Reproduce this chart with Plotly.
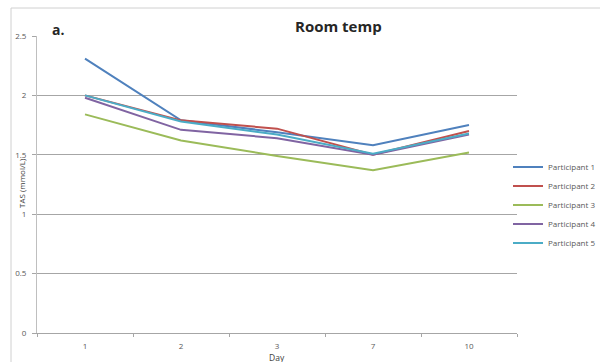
import plotly.graph_objects as go

days = ["1", "2", "3", "7", "10"]
series_names = ["Participant 1", "Participant 2", "Participant 3", "Participant 4", "Participant 5"]
p1 = [2.31, 1.79, 1.69, 1.58, 1.75]
p2 = [2.00, 1.79, 1.72, 1.50, 1.70]
p3 = [1.84, 1.62, 1.49, 1.37, 1.52]
p4 = [1.98, 1.71, 1.64, 1.50, 1.67]
p5 = [2.00, 1.78, 1.67, 1.51, 1.68]
y_ticks = [0, 0.5, 1, 1.5, 2, 2.5]
y_tick_labels = ["0", "0.5", "1", "1.5", "2", "2.5"]
colors = ["#4F81BD", "#C0504D", "#9BBB59", "#8064A2", "#4BACC6"]

fig = go.Figure()
for name, vals, c in zip(series_names, [p1, p2, p3, p4, p5], colors):
    fig.add_trace(go.Scatter(x=days, y=vals, mode="lines", name=name,
                             line=dict(color=c, width=2)))

W, H = 600, 362
L, R, T, B = 37, 83, 36, 29
pw, ph = W - L - R, H - T - B

def px(p):
    return (p - L) / pw

def py(q):
    return (H - B - q) / ph

fig.update_layout(
    width=W, height=H,
    margin=dict(l=L, r=R, t=T, b=B, autoexpand=False),
    paper_bgcolor="white", plot_bgcolor="white",
    font=dict(family="Open Sans, Liberation Sans, sans-serif", color="#595959", size=8),
    showlegend=True,
    legend=dict(x=px(508), y=py(205), xanchor="left", yanchor="middle",
                font=dict(size=8, color="#595959"), itemwidth=30,
                bgcolor="rgba(0,0,0,0)", tracegroupgap=0),
    xaxis=dict(type="category", range=[-0.5, 4.5], showgrid=False, showline=True,
               linecolor="#a6a6a6", linewidth=1, ticks="outside", tickson="boundaries",
               ticklen=3, tickcolor="#a6a6a6", tickfont=dict(size=8, color="#595959"),
               ticklabelstandoff=5),
    yaxis=dict(range=[0, 2.5], tickvals=y_ticks, ticktext=y_tick_labels,
               showgrid=True, gridcolor="#a6a6a6", gridwidth=1,
               showline=True, linecolor="#bfbfbf", ticks="outside", ticklen=4,
               tickcolor="#a6a6a6", tickfont=dict(size=8, color="#595959"),
               ticklabelstandoff=4, zeroline=False),
)

fig.add_shape(type="rect", xref="paper", yref="paper",
              x0=px(11), x1=px(620), y0=py(380), y1=py(8),
              line=dict(color="#d0d0d0", width=1), layer="below")

fig.add_annotation(text="Day", xref="paper", yref="paper",
                   x=px(277), y=py(357), showarrow=False,
                   xanchor="center", yanchor="middle",
                   font=dict(size=8.5, color="#404040"))
fig.add_annotation(text="TAS (mmol/L)", xref="paper", yref="paper",
                   x=px(21), y=py(183), showarrow=False, textangle=-90,
                   xanchor="center", yanchor="middle",
                   font=dict(size=8, color="#404040"))
fig.add_annotation(text="<b>Room temp</b>", xref="paper", yref="paper",
                   x=px(338), y=py(26), showarrow=False, yanchor="middle",
                   font=dict(size=15, color="#262626", family="Open Sans, sans-serif"))
fig.add_annotation(text="<b>a.</b>", xref="paper", yref="paper",
                   x=px(50), y=py(29), showarrow=False, yanchor="middle",
                   font=dict(size=14, color="#262626", family="Open Sans, sans-serif"))

fig.write_html("out.html")
